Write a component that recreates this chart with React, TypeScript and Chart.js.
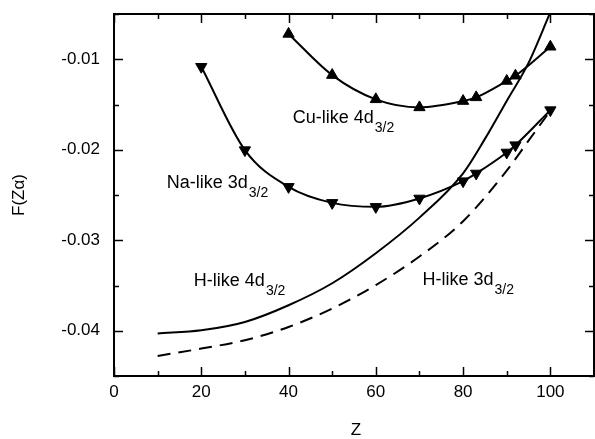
import React, { useEffect, useRef } from "react";
import { Chart, registerables } from "chart.js";

Chart.register(...registerables);

// ---- data ----
const CU_Z = [40, 50, 60, 70, 80, 83, 90, 92, 100];
const CU_F = [-0.0072, -0.01175, -0.01443, -0.01532, -0.01462, -0.01421, -0.0124, -0.01182, -0.00862];

const NA_Z = [20, 30, 40, 50, 60, 70, 80, 83, 90, 92, 100];
const NA_F = [-0.01083, -0.02004, -0.0241, -0.02587, -0.02631, -0.02538, -0.02347, -0.02262, -0.0203, -0.01949, -0.01562];

const H4_Z = [10, 20, 30, 40, 50, 60, 70, 80, 85, 90, 95, 100];
const H4_F = [-0.0403, -0.03995, -0.03903, -0.03718, -0.03475, -0.03143, -0.0275, -0.0226, -0.0188, -0.0146, -0.0104, -0.0048];

const H3_Z = [10, 20, 30, 40, 50, 60, 70, 80, 90, 95, 100];
const H3_F = [-0.04279, -0.04197, -0.04105, -0.03958, -0.03755, -0.03495, -0.0318, -0.0279, -0.0223, -0.0190, -0.0157];

const X_TICKS = [0, 10, 20, 30, 40, 50, 60, 70, 80, 90, 100, 110];
const X_LABELS = [0, 20, 40, 60, 80, 100];
const Y_TICKS = [-0.045, -0.04, -0.035, -0.03, -0.025, -0.02, -0.015, -0.01, -0.005];
const Y_LABELS = ["-0.04", "-0.03", "-0.02", "-0.01"];

const X_TITLE = "Z";
const Y_TITLE = "F(Z\u03b1)";

// annotation text, anchored in data coordinates (Z, F)
const NOTE_TEXT = ["Cu-like 4d", "Na-like 3d", "H-like 4d", "H-like 3d"];
const NOTE_SUB = ["3/2", "3/2", "3/2", "3/2"];
const NOTE_Z = [40.95, 12.1, 18.3, 70.7];
const NOTE_F = [-0.0165, -0.02369, -0.03453, -0.03442];

const FONT = "'Liberation Sans', Arial, Helvetica, sans-serif";

const pts = (zs: number[], fs: number[]) => zs.map((z, i) => ({ x: z, y: fs[i] }));
const isLabelY = (v: number) => Y_LABELS.some((l) => Math.abs(parseFloat(l) - v) < 1e-9);
const isLabelX = (v: number) => X_LABELS.some((l) => Math.abs(l - v) < 1e-9);

const zeroPad = (s: any) => {
  s.paddingLeft = 0;
  s.paddingRight = 0;
  s.paddingTop = 0;
  s.paddingBottom = 0;
};

const framePlugin = {
  id: "frame",
  afterDraw(chart: any) {
    const { ctx, chartArea, scales } = chart;
    const { left, right, top, bottom } = chartArea;
    const xs = scales.x;
    const ys = scales.y;
    ctx.save();
    ctx.strokeStyle = "#000";
    ctx.lineWidth = 2;
    ctx.strokeRect(left, top, right - left, bottom - top);
    ctx.lineWidth = 1.5;
    ctx.beginPath();
    X_TICKS.forEach((v) => {
      const px = Math.round(xs.getPixelForValue(v)) + 0.5;
      const len = isLabelX(v) ? 9 : 5;
      ctx.moveTo(px, bottom);
      ctx.lineTo(px, bottom - len);
      ctx.moveTo(px, top);
      ctx.lineTo(px, top + len);
    });
    Y_TICKS.forEach((v) => {
      const py = Math.round(ys.getPixelForValue(v)) + 0.5;
      const len = isLabelY(v) ? 9 : 5;
      ctx.moveTo(left, py);
      ctx.lineTo(left + len, py);
      ctx.moveTo(right, py);
      ctx.lineTo(right - len, py);
    });
    ctx.stroke();

    // annotations
    ctx.fillStyle = "#000";
    ctx.textBaseline = "middle";
    ctx.textAlign = "left";
    NOTE_TEXT.forEach((t, i) => {
      const px = xs.getPixelForValue(NOTE_Z[i]);
      const py = ys.getPixelForValue(NOTE_F[i]);
      ctx.font = `18px ${FONT}`;
      ctx.fillText(t, px, py);
      const w = ctx.measureText(t).width;
      ctx.font = `14px ${FONT}`;
      ctx.fillText(NOTE_SUB[i], px + w + 1, py + 10);
    });

    // axis titles
    ctx.font = `17px ${FONT}`;
    ctx.textAlign = "center";
    ctx.fillText(X_TITLE, (left + right) / 2 + 2, 430);
    ctx.save();
    ctx.translate(19, (top + bottom) / 2);
    ctx.rotate(-Math.PI / 2);
    ctx.fillText(Y_TITLE, 0, 0);
    ctx.restore();
    ctx.restore();
  },
};

export default function App() {
  const ref = useRef<HTMLCanvasElement>(null);
  useEffect(() => {
    if (!ref.current) return;
    const common = {
      showLine: true,
      borderColor: "#000",
      backgroundColor: "#000",
      borderWidth: 2,
      cubicInterpolationMode: "monotone" as const,
    };
    const chart = new Chart(ref.current, {
      type: "scatter",
      data: {
        datasets: [
          { ...common, label: "Cu-like 4d3/2", data: pts(CU_Z, CU_F), pointStyle: "triangle", pointRadius: 6.5, pointBorderWidth: 1 },
          { ...common, label: "Na-like 3d3/2", data: pts(NA_Z, NA_F), pointStyle: "triangle", pointRotation: 180, pointRadius: 6.5, pointBorderWidth: 1 },
          { ...common, label: "H-like 4d3/2", data: pts(H4_Z, H4_F), pointRadius: 0 },
          { ...common, label: "H-like 3d3/2", data: pts(H3_Z, H3_F), pointRadius: 0, borderDash: [13, 8] },
        ],
      },
      options: {
        animation: false,
        responsive: false,
        devicePixelRatio: 1,
        layout: { autoPadding: false, padding: { top: 14, right: 1, left: 0, bottom: 0 } },
        plugins: { legend: { display: false }, tooltip: { enabled: false } },
        scales: {
          x: {
            type: "linear",
            min: 0,
            max: 110,
            afterBuildTicks: (s: any) => {
              s.ticks = X_TICKS.map((v) => ({ value: v }));
            },
            afterFit: (s: any) => {
              s.height = 63;
              zeroPad(s);
            },
            grid: { display: false, drawTicks: false },
            border: { display: false },
            ticks: {
              autoSkip: false,
              maxRotation: 0,
              padding: 6,
              color: "#000",
              font: { family: FONT, size: 17 },
              callback: (v: any) => (isLabelX(Number(v)) ? String(v) : ""),
            },
          },
          y: {
            type: "linear",
            min: -0.045,
            max: -0.005,
            afterBuildTicks: (s: any) => {
              s.ticks = Y_TICKS.map((v) => ({ value: v }));
            },
            afterFit: (s: any) => {
              s.width = 114;
              zeroPad(s);
            },
            grid: { display: false, drawTicks: false },
            border: { display: false },
            ticks: {
              autoSkip: false,
              padding: 14,
              color: "#000",
              font: { family: FONT, size: 17 },
              callback: (v: any) => {
                const n = Number(v);
                const l = Y_LABELS.find((s) => Math.abs(parseFloat(s) - n) < 1e-9);
                return l ?? "";
              },
            },
          },
        },
      },
      plugins: [framePlugin],
    });
    return () => chart.destroy();
  }, []);
  return (
    <div style={{ position: "absolute", left: 0, top: 0, width: 595, height: 439, background: "#fff" }}>
      <canvas ref={ref} width={595} height={439} style={{ width: 595, height: 439, display: "block" }} />
    </div>
  );
}
